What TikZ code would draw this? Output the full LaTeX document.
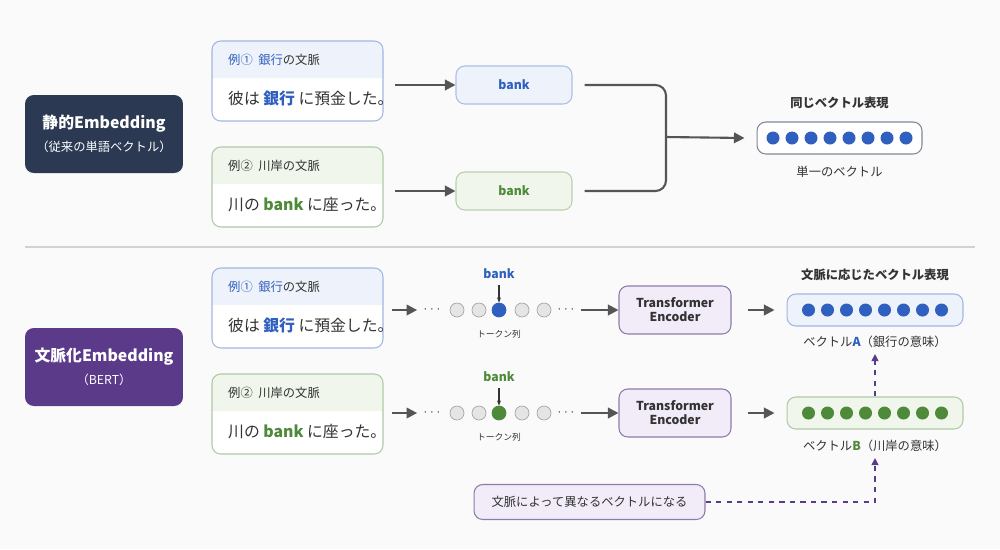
\documentclass[tikz,border=0pt]{standalone}
\usepackage{fontspec}
\setmainfont{Noto Sans CJK JP}
\usetikzlibrary{positioning,arrows.meta,calc}
\definecolor{navy}{HTML}{2B3A52}
\definecolor{purp}{HTML}{5B3A8A}
\definecolor{bl}{HTML}{2F5FBF}
\definecolor{gr}{HTML}{4E8A3A}
\definecolor{blfill}{HTML}{EEF3FB}
\definecolor{grfill}{HTML}{F0F6EC}
\definecolor{lav}{HTML}{F1ECF8}
\definecolor{lavdraw}{HTML}{8E7BAA}
\definecolor{txt}{HTML}{333333}
\definecolor{arr}{HTML}{555555}
\tikzset{
  box/.style={rounded corners=5pt, draw, line width=0.6pt},
  side/.style={box, draw=none, minimum width=3.16cm, minimum height=1.56cm, text=white, align=center, font=\bfseries\small},
  to/.style={-{Triangle[length=6pt,width=6pt]}, draw=arr, line width=1.2pt},
  hint/.style={-{Triangle[length=4pt,width=4pt]}, draw=purp, dashed, line width=0.6pt},
  tok/.style={circle, minimum size=0.28cm, inner sep=0pt, draw=gray!70, fill=gray!20, line width=0.4pt},
  dot/.style={circle, minimum size=0.26cm, inner sep=0pt},
  lbl/.style={font=\scriptsize, text=txt},
  ttl/.style={font=\bfseries\scriptsize, text=txt}
}
\newcommand{\example}[6]{% name, top y, colour, fill, header, body
  \fill[white, rounded corners=5pt] (212,#2) rectangle (383,#2+80);
  \fill[#4] (212,#2+37) [rounded corners=5pt] -- (212,#2) -- (383,#2) [sharp corners] -- (383,#2+37) -- cycle;
  \draw[box, draw=#3!45] (212,#2) rectangle (383,#2+80);
  \node[anchor=west, font=\scriptsize, text=txt] (#1h) at (222,#2+19) {#5};
  \node[anchor=west, font=\small, text=txt] (#1b) at (222,#2+58) {#6};
}
\newcommand{\tokens}[3]{% name, y, colour
  \node[lbl] (#1l) at (432,#2) {$\cdots$};
  \foreach \i/\x in {1/457,2/479,4/522,5/544} \node[tok] (#1\i) at (\x,#2) {};
  \node[tok, draw=#3, fill=#3] (#13) at (499,#2) {};
  \node[lbl] (#1r) at (566,#2) {$\cdots$};
  \node[font=\bfseries\scriptsize, text=#3] (#1w) at (499,#2-36) {bank};
  \draw[-{Stealth[length=3pt]}, line width=0.6pt, draw=txt] (#1w) -- (#13);
  \node[lbl, font=\tiny] (#1c) at (499,#2+24) {トークン列};
}
\newcommand{\vect}[5]{% name, width, centre, colour, fill
  \node[box, draw=#4!45, fill=#5, minimum width=#2, minimum height=0.64cm] (#1) at (#3) {};
  \foreach \k in {0,...,7} \node[dot, fill=#4] at ($(#1.center)+(-\k*19+66.5,0)$) {};
}
\begin{document}
\begin{tikzpicture}[x=0.02cm, y=-0.02cm]
\fill[gray!4] (0,0) rectangle (1000,549);

% static embedding
\node[side, fill=navy] (stat) at (104,134) {静的Embedding\\[2pt]{\mdseries\scriptsize （従来の単語ベクトル）}};
\example{e1}{41}{bl}{blfill}{\textcolor{bl}{例① \ 銀行}の文脈}{彼は \textcolor{bl}{\bfseries 銀行} に預金した。}
\example{e2}{147}{gr}{grfill}{例② \ 川岸の文脈}{川の \textcolor{gr}{\bfseries bank} に座った。}
\node[box, draw=bl!40, fill=blfill, minimum width=2.32cm, minimum height=0.76cm, font=\bfseries\scriptsize, text=bl] (bk1) at (514,85) {bank};
\node[box, draw=gr!40, fill=grfill, minimum width=2.32cm, minimum height=0.76cm, font=\bfseries\scriptsize, text=gr] (bk2) at (514,191) {bank};
\coordinate (s1) at (395,85); \coordinate (s2) at (395,191);
\draw[to] (s1) -- (bk1.west);
\draw[to] (s2) -- (bk2.west);
\coordinate (j) at (666,137);
\draw[draw=arr, line width=1.2pt, rounded corners=6pt] ($(bk1.east)+(12,0)$) -| (j) |- ($(bk2.east)+(12,0)$);
\node[box, draw=navy!60, fill=white, minimum width=3.3cm, minimum height=0.64cm] (same) at (839.5,138) {};
\foreach \k in {0,...,7} \node[dot, fill=bl] at ($(same.center)+(-\k*19+66.5,0)$) {};
\draw[to] (j) -- ($(same.west)+(-12,0)$);
\node[ttl] (samet) at (839.5,103) {同じベクトル表現};
\node[lbl] (sameb) at (839.5,172) {単一のベクトル};

\draw[gray!35, line width=0.6pt] (25,247) -- (975,247);

% contextual embedding
\node[side, fill=purp] (ctx) at (104,367) {文脈化Embedding\\[2pt]{\mdseries\scriptsize （BERT）}};
\example{e3}{268}{bl}{blfill}{\textcolor{bl}{例① \ 銀行}の文脈}{彼は \textcolor{bl}{\bfseries 銀行} に預金した。}
\example{e4}{374}{gr}{grfill}{例② \ 川岸の文脈}{川の \textcolor{gr}{\bfseries bank} に座った。}
\tokens{ta}{310}{bl}
\tokens{tb}{413}{gr}
\coordinate (s3) at (392,310); \coordinate (s4) at (392,413);
\draw[to] (s3) -- (tal.west);
\draw[to] (s4) -- (tbl.west);
\node[box, draw=lavdraw, fill=lav, minimum width=2.24cm, minimum height=0.96cm, align=center, font=\bfseries\scriptsize, text=txt, inner sep=1pt] (enc1) at (675,310) {Transformer\\Encoder};
\node[box, draw=lavdraw, fill=lav, minimum width=2.24cm, minimum height=0.96cm, align=center, font=\bfseries\scriptsize, text=txt, inner sep=1pt] (enc2) at (675,413) {Transformer\\Encoder};
\draw[to] (tar.east) -- (enc1.west);
\draw[to] (tbr.east) -- (enc2.west);
\vect{va}{3.52cm}{875,310}{bl}{blfill}
\vect{vb}{3.52cm}{875,413}{gr}{grfill}
\draw[to] ($(enc1.east)+(16,0)$) -- ($(va.west)+(-12,0)$);
\draw[to] ($(enc2.east)+(16,0)$) -- ($(vb.west)+(-12,0)$);
\node[ttl] (vat) at (875,275) {文脈に応じたベクトル表現};
\node[lbl] (vab) at (875,342) {ベクトル\textcolor{bl}{\bfseries A}（銀行の意味）};
\node[lbl] (vbb) at (875,446) {ベクトル\textcolor{gr}{\bfseries B}（川岸の意味）};
\draw[hint] (vb.north) -- (vab.south);
\node[box, draw=lavdraw, fill=lav, minimum width=4.62cm, minimum height=0.7cm, font=\scriptsize, text=txt] (note) at (589.5,502) {文脈によって異なるベクトルになる};
\draw[hint] (note.east) -| (vbb.south);
\end{tikzpicture}
\end{document}
